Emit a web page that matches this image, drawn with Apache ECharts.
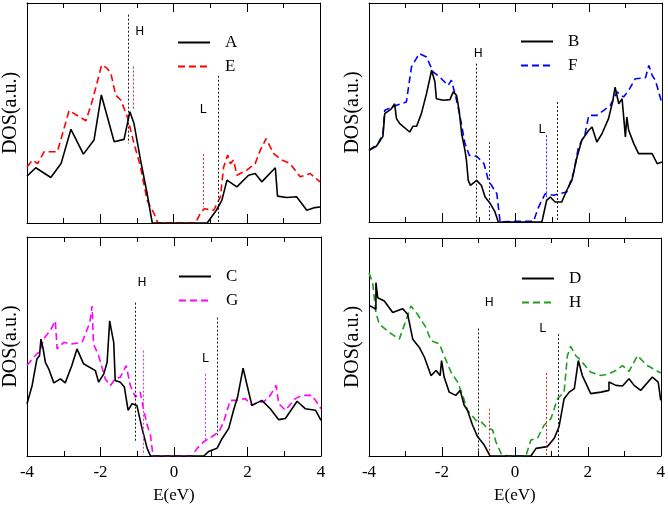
<!DOCTYPE html>
<html>
<head>
<meta charset="utf-8">
<script src="https://cdn.jsdelivr.net/npm/echarts@6/dist/echarts.min.js"></script>
<style>
  html, body { margin: 0; padding: 0; background: #fff; }
  #main { width: 668px; height: 505px; }
</style>
</head>
<body>
<div id="main"></div>
<script>
// DOS curves, [E (eV), DOS in a.u. scaled 0..1]
var dosA = [[-4,0.213],[-3.76,0.251],[-3.35,0.207],[-3.07,0.27],[-2.8,0.426],[-2.46,0.313],[-2.17,0.377],[-1.97,0.582],[-1.62,0.369],[-1.35,0.38],[-1.19,0.506],[-1.08,0.453],[-0.9,0.286],[-0.72,0.134],[-0.58,0],[0.92,0],[1.17,0.058],[1.32,0.103],[1.46,0.195],[1.73,0.164],[2.05,0.217],[2.23,0.225],[2.41,0.187],[2.78,0.251],[2.84,0.122],[3.09,0.116],[3.36,0.119],[3.64,0.058],[3.86,0.07],[4,0.073]]
var dosE = [[-4,0.255],[-3.85,0.286],[-3.71,0.27],[-3.53,0.324],[-3.17,0.324],[-2.85,0.511],[-2.39,0.465],[-2.21,0.559],[-1.96,0.719],[-1.82,0.704],[-1.71,0.681],[-1.58,0.582],[-1.44,0.559],[-1.26,0.483],[-1.08,0.362],[-0.9,0.255],[-0.72,0.103],[-0.53,0.043],[-0.43,0],[0.6,0],[0.73,0.043],[0.84,0.065],[1.1,0.058],[1.28,0.119],[1.37,0.255],[1.48,0.309],[1.55,0.27],[1.64,0.286],[1.73,0.217],[2,0.24],[2.23,0.27],[2.37,0.331],[2.53,0.384],[2.73,0.316],[2.96,0.286],[3.18,0.27],[3.46,0.21],[3.73,0.225],[4,0.187]]
var dosB = [[-4,0.327],[-3.8,0.346],[-3.62,0.391],[-3.57,0.495],[-3.39,0.517],[-3.3,0.54],[-3.25,0.472],[-3.16,0.449],[-2.89,0.411],[-2.8,0.437],[-2.7,0.437],[-2.57,0.495],[-2.43,0.586],[-2.29,0.693],[-2.2,0.639],[-2.16,0.563],[-1.97,0.556],[-1.79,0.559],[-1.7,0.594],[-1.61,0.578],[-1.54,0.51],[-1.47,0.403],[-1.38,0.327],[-1.34,0.282],[-1.29,0.19],[-1.23,0.167],[-1.06,0.19],[-0.93,0.167],[-0.83,0.114],[-0.7,0.087],[-0.56,0.046],[-0.47,0],[0.72,0],[0.85,0.099],[0.95,0.114],[1.08,0.091],[1.26,0.091],[1.4,0.145],[1.54,0.19],[1.68,0.297],[1.81,0.373],[2,0.419],[2.09,0.434],[2.22,0.365],[2.36,0.403],[2.54,0.472],[2.66,0.556],[2.72,0.616],[2.82,0.54],[2.91,0.563],[2.95,0.487],[3,0.388],[3.04,0.479],[3.09,0.419],[3.23,0.358],[3.36,0.312],[3.73,0.312],[3.87,0.266],[4,0.274]]
var dosF = [[-4,0.327],[-3.75,0.358],[-3.62,0.403],[-3.57,0.51],[-3.25,0.533],[-2.98,0.548],[-2.84,0.708],[-2.63,0.769],[-2.43,0.753],[-2.25,0.685],[-2.07,0.662],[-1.84,0.624],[-1.75,0.647],[-1.63,0.571],[-1.52,0.487],[-1.38,0.358],[-1.26,0.304],[-1.06,0.3],[-0.86,0.266],[-0.74,0.19],[-0.51,0.129],[-0.42,0],[-0.01,0.003],[0.49,0.003],[0.63,0.068],[0.81,0.129],[1.04,0.122],[1.4,0.137],[1.58,0.221],[1.72,0.342],[1.9,0.403],[2,0.487],[2.22,0.487],[2.41,0.51],[2.59,0.533],[2.77,0.594],[2.95,0.571],[3.09,0.601],[3.27,0.654],[3.55,0.659],[3.64,0.715],[3.73,0.67],[3.82,0.647],[3.91,0.594],[4,0.54]]
var dosC = [[-4,0.239],[-3.86,0.322],[-3.73,0.443],[-3.66,0.458],[-3.62,0.534],[-3.56,0.489],[-3.5,0.428],[-3.41,0.398],[-3.27,0.334],[-3.09,0.352],[-2.96,0.334],[-2.78,0.413],[-2.64,0.489],[-2.46,0.421],[-2.14,0.39],[-2.05,0.337],[-1.91,0.375],[-1.82,0.428],[-1.75,0.617],[-1.71,0.579],[-1.64,0.519],[-1.6,0.345],[-1.46,0.337],[-1.35,0.315],[-1.25,0.209],[-1.14,0.239],[-1.01,0.231],[-0.87,0.126],[-0.73,0.035],[-0.64,0],[0.81,0],[0.94,0.02],[1.17,0.035],[1.31,0.08],[1.49,0.126],[1.62,0.209],[1.73,0.269],[1.88,0.401],[1.99,0.322],[2.12,0.231],[2.39,0.254],[2.62,0.216],[2.85,0.166],[3.03,0.171],[3.35,0.25],[3.57,0.216],[3.85,0.209],[4,0.163]]
var dosG = [[-4,0.413],[-3.82,0.451],[-3.64,0.481],[-3.55,0.534],[-3.37,0.572],[-3.23,0.617],[-3.18,0.489],[-3,0.519],[-2.82,0.511],[-2.5,0.519],[-2.29,0.61],[-2.23,0.685],[-2.19,0.511],[-2.05,0.458],[-1.87,0.352],[-1.73,0.322],[-1.6,0.352],[-1.46,0.36],[-1.3,0.413],[-1.19,0.322],[-1.05,0.269],[-0.92,0.292],[-0.83,0.216],[-0.73,0.141],[-0.64,0.095],[-0.57,0],[0.49,0],[0.63,0.035],[0.81,0.065],[1.03,0.088],[1.22,0.11],[1.35,0.156],[1.53,0.254],[1.71,0.254],[1.94,0.262],[2.12,0.231],[2.3,0.247],[2.44,0.247],[2.62,0.277],[2.78,0.322],[2.85,0.239],[3.03,0.209],[3.3,0.262],[3.48,0.277],[3.76,0.277],[4,0.216]]
var dosD = [[-4,0.691],[-3.93,0.685],[-3.81,0.673],[-3.81,0.795],[-3.76,0.726],[-3.58,0.711],[-3.35,0.658],[-3.08,0.676],[-2.94,0.65],[-2.8,0.536],[-2.62,0.498],[-2.48,0.453],[-2.3,0.369],[-2.16,0.392],[-2.05,0.369],[-2.01,0.438],[-1.94,0.362],[-1.8,0.293],[-1.62,0.278],[-1.5,0.301],[-1.39,0.233],[-1.3,0.21],[-1.16,0.141],[-1.02,0.088],[-0.84,0.05],[-0.68,0],[0.44,0],[0.58,0.035],[0.89,0.043],[1.08,0.081],[1.21,0.134],[1.35,0.263],[1.49,0.293],[1.63,0.309],[1.74,0.438],[1.85,0.369],[2.08,0.286],[2.36,0.293],[2.58,0.301],[2.58,0.339],[2.77,0.324],[2.95,0.321],[3.13,0.354],[3.27,0.324],[3.45,0.301],[3.77,0.362],[3.93,0.339],[4,0.255]]
var dosH = [[-4,0.84],[-3.9,0.795],[-3.81,0.658],[-3.72,0.605],[-3.44,0.567],[-3.17,0.536],[-2.99,0.62],[-2.85,0.688],[-2.67,0.65],[-2.44,0.59],[-2.3,0.529],[-2.07,0.514],[-1.94,0.46],[-1.75,0.384],[-1.57,0.339],[-1.43,0.278],[-1.3,0.21],[-1.07,0.164],[-0.93,0.157],[-0.79,0.134],[-0.61,0.119],[-0.52,0.065],[-0.38,0.012],[-0.2,0],[0.3,0],[0.44,0.073],[0.62,0.081],[0.8,0.141],[0.99,0.172],[1.17,0.263],[1.35,0.293],[1.44,0.46],[1.53,0.503],[1.67,0.46],[1.81,0.438],[2.08,0.384],[2.36,0.369],[2.58,0.377],[2.77,0.392],[2.95,0.415],[3.13,0.388],[3.36,0.46],[3.63,0.415],[4,0.381]]

// vertical guides [E, top, bottom]: black H, coloured H, black L, coloured L
var guidesAE = [[-1.23,0.947,0.362],[-1.10,0.711,0.514],[1.23,0.669,0],[0.80,0.313,0.073]]
var guidesBF = [[-1.08,0.723,0],[-0.73,0.365,0],[1.13,0.548,0],[0.83,0.396,0.099]]
var guidesCG = [[-1.05,0.70,0.065],[-0.83,0.481,0.005],[1.19,0.632,0.095],[0.85,0.375,0.065]]
var guidesDH = [[-1.0,0.585,0],[-0.69,0.217,0],[1.20,0.559,0],[0.85,0.381,0]]

// H / L label positions [E, DOS]
var labelsAE = [[-0.92,0.871],[0.81,0.514]]
var labelsBF = [[-1.02,0.769],[0.72,0.419]]
var labelsCG = [[-0.87,0.791],[0.85,0.443]]
var labelsDH = [[-0.70,0.704],[0.76,0.585]]
var labelNames = ['H', 'L']

var xTicks = { min: -4, max: 4, interval: 2 }

var chart = echarts.init(document.getElementById('main'))

var panels = [
  { grid: { left: 26, top: 3, width: 294, height: 220 }, names: ['A', 'E'], data: [dosA, dosE], color: '#ff0000', guideColor: '#ff0000', guides: guidesAE, labels: labelsAE, bottom: false, legend: { left: 172, top: 29 } },
  { grid: { left: 369, top: 3, width: 293, height: 219 }, names: ['B', 'F'], data: [dosB, dosF], color: '#0000ff', guideColor: '#0000ff', guides: guidesBF, labels: labelsBF, bottom: false, legend: { left: 515, top: 28 } },
  { grid: { left: 27, top: 237, width: 294, height: 221 }, names: ['C', 'G'], data: [dosC, dosG], color: '#ff00ff', guideColor: '#ff00ff', guides: guidesCG, labels: labelsCG, bottom: true, legend: { left: 173, top: 263 } },
  { grid: { left: 369, top: 238, width: 292, height: 220 }, names: ['D', 'H'], data: [dosD, dosH], color: '#1e9e1e', guideColor: '#ff0000', guides: guidesDH, labels: labelsDH, bottom: true, legend: { left: 516, top: 265 } }
]

var axisLine = { show: true, onZero: false, lineStyle: { color: '#000', width: 1 } }
var serif = 'Liberation Serif'

var grids = [], xAxes = [], yAxes = [], series = [], legends = []

panels.forEach(function (p, i) {
  grids.push(p.grid)
  // bottom x axis
  xAxes.push({
    type: 'value', gridIndex: i, position: 'bottom',
    min: xTicks.min, max: xTicks.max, interval: xTicks.interval,
    axisLine: axisLine,
    axisTick: { show: true, inside: true, length: 9, lineStyle: { color: '#000' } },
    minorTick: { show: true, splitNumber: 2, length: 5, lineStyle: { color: '#000' } },
    axisLabel: { show: p.bottom, color: '#000', fontFamily: serif, fontSize: 17, margin: 8 },
    splitLine: { show: false },
    name: p.bottom ? 'E(eV)' : '', nameLocation: 'middle', nameGap: 31,
    nameTextStyle: { color: '#000', fontFamily: serif, fontSize: 17 }
  })
  // mirrored top axis
  xAxes.push({
    type: 'value', gridIndex: i, position: 'top',
    min: xTicks.min, max: xTicks.max, interval: xTicks.interval,
    axisLine: axisLine,
    axisTick: { show: true, inside: true, length: 9, lineStyle: { color: '#000' } },
    minorTick: { show: true, splitNumber: 2, length: 5, lineStyle: { color: '#000' } },
    axisLabel: { show: false }, splitLine: { show: false }
  })
  yAxes.push({
    type: 'value', gridIndex: i, position: 'left', min: 0, max: 1,
    axisLine: axisLine, axisTick: { show: false }, axisLabel: { show: false }, splitLine: { show: false },
    name: 'DOS(a.u.)', nameLocation: 'middle', nameGap: 6,
    nameTextStyle: { color: '#000', fontFamily: serif, fontSize: 20 }
  })
  yAxes.push({
    type: 'value', gridIndex: i, position: 'right', min: 0, max: 1,
    axisLine: axisLine, axisTick: { show: false }, axisLabel: { show: false }, splitLine: { show: false }
  })

  var guideLines = p.guides.map(function (g, k) {
    return [
      { coord: [g[0], g[1]], lineStyle: { color: k % 2 === 0 ? '#000' : p.guideColor, type: [2, 2], width: 0.9 } },
      { coord: [g[0], g[2]] }
    ]
  })
  var marks = p.labels.map(function (l, k) {
    return { name: labelNames[k], coord: l }
  })

  series.push({
    type: 'line', name: p.names[0], xAxisIndex: 2 * i, yAxisIndex: 2 * i,
    data: p.data[0], symbol: 'none', showSymbol: false,
    lineStyle: { color: '#000', width: 1.6 }, itemStyle: { color: '#000' },
    z: 3,
    markLine: { silent: true, symbol: ['none', 'none'], label: { show: false }, data: guideLines, animation: false },
    markPoint: {
      silent: true, symbol: 'circle', symbolSize: 0, animation: false,
      label: { show: true, position: 'inside', formatter: '{b}', color: '#000', fontFamily: 'DejaVu Sans', fontSize: 12 },
      data: marks
    }
  })
  series.push({
    type: 'line', name: p.names[1], xAxisIndex: 2 * i, yAxisIndex: 2 * i,
    data: p.data[1], symbol: 'none', showSymbol: false,
    lineStyle: { color: p.color, width: 1.6, type: [7, 4] }, itemStyle: { color: p.color },
    z: 2
  })

  legends.push({
    data: p.names, orient: 'vertical', left: p.legend.left, top: p.legend.top,
    itemWidth: 32, itemHeight: 14, itemGap: 7,
    itemStyle: { opacity: 0 },
    lineStyle: { width: 2 },
    textStyle: { color: '#000', fontFamily: serif, fontSize: 17, padding: [0, 0, 0, 10] },
    selectedMode: false
  })
})

var option = {
  animation: false,
  backgroundColor: '#fff',
  grid: grids,
  xAxis: xAxes,
  yAxis: yAxes,
  legend: legends,
  series: series
}

option && chart.setOption(option)
</script>
</body>
</html>
